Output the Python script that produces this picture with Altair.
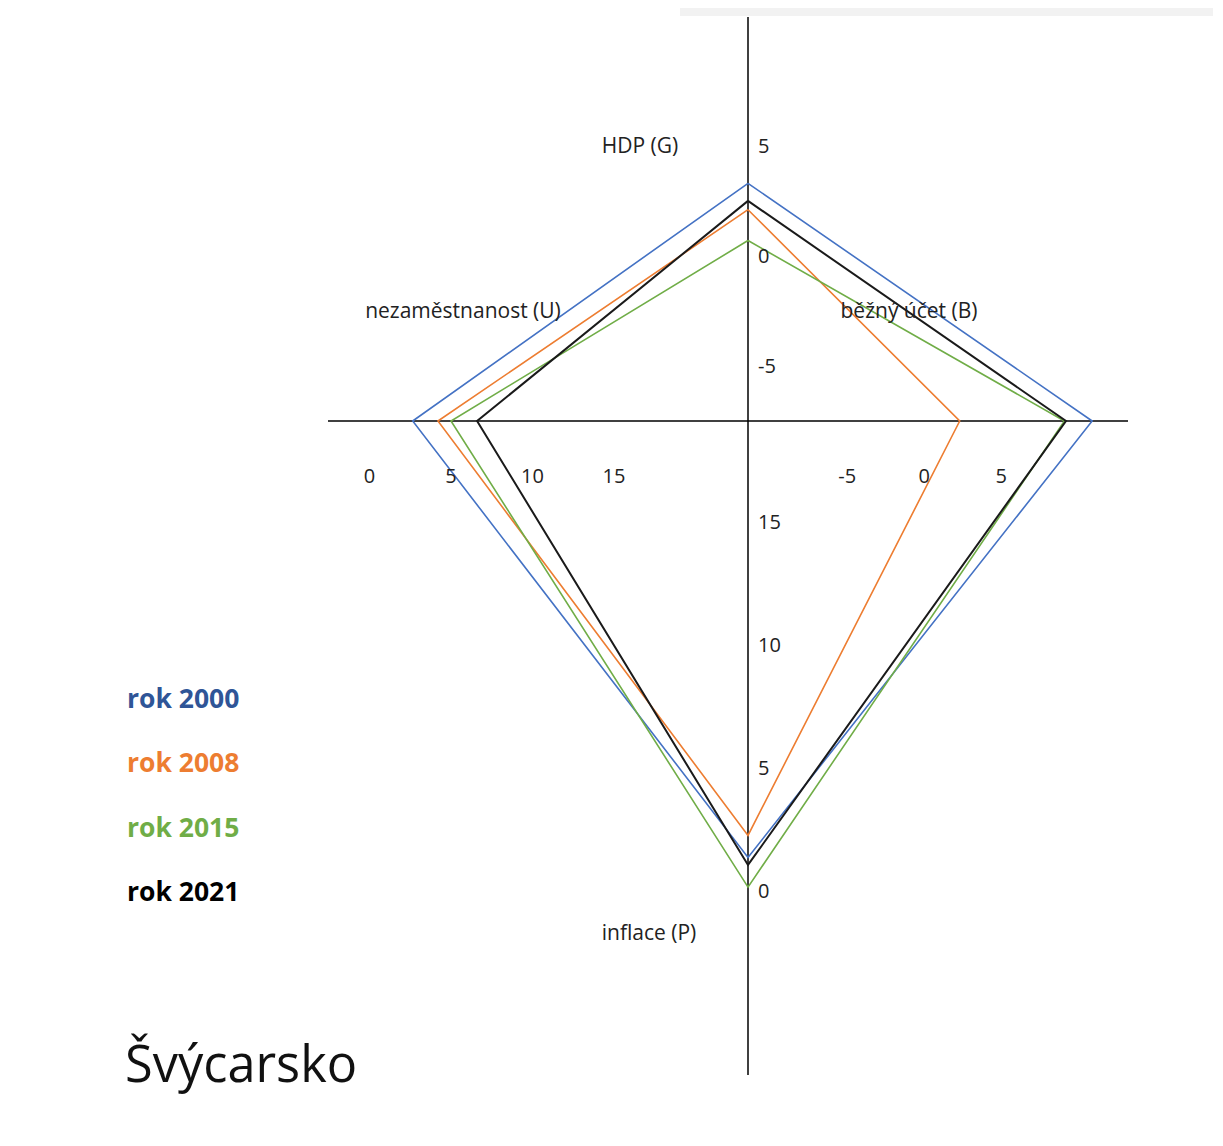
import altair as alt
import pandas as pd

# ---------------- data ----------------
years = ["rok 2000", "rok 2008", "rok 2015", "rok 2021"]
line_colors = ["#4472C4", "#ED7D31", "#70AD47", "#1a1a1a"]
legend_colors = ["#2F5597", "#ED7D31", "#70AD47", "#000000"]
line_widths = [1.6, 1.6, 1.6, 2.0]

hdp_G = [3.35, 2.15, 0.75, 2.55]            # top axis
bezny_ucet_B = [10.9, 2.3, 9.1, 9.2]        # right axis
inflace_P = [1.4, 2.3, 0.2, 1.1]            # bottom axis (0 outside)
nezamestnanost_U = [2.65, 4.2, 5.0, 6.6]    # left axis (0 outside)

ticks_G = [5, 0, -5]
ticks_B = [-5, 0, 5]
ticks_P = [0, 5, 10, 15]
ticks_U = [0, 5, 10, 15]

axis_titles = ["HDP (G)", "běžný účet (B)", "inflace (P)", "nezaměstnanost (U)"]
chart_title = "Švýcarsko"

# ---------------- layout of the quadrangle ----------------
W, H = 1205, 1125
CX, CY = 748, 421          # crossing point of the two axis lines
# each indicator has its own linear axis: position = origin + step * value
AX = {
    "G": ("y", 257.0, -22.0),
    "B": ("x", 924.3, 15.4),
    "P": ("y", 892.0, -24.6),
    "U": ("x", 369.5, 16.3),
}


def pos(axis, v):
    d, o, s = AX[axis]
    p = o + s * v
    return (CX, p) if d == "y" else (p, CY)


# polygons
poly_rows = []
for k, yr in enumerate(years):
    pts = [pos("G", hdp_G[k]), pos("B", bezny_ucet_B[k]),
           pos("P", inflace_P[k]), pos("U", nezamestnanost_U[k])]
    pts.append(pts[0])
    for i, (x, y) in enumerate(pts):
        poly_rows.append({"year": yr, "i": i, "x": x, "y": y,
                          "col": line_colors[k]})
poly = pd.DataFrame(poly_rows)

# tick labels
tick_rows = []
for t in ticks_G:
    x, y = pos("G", t)
    tick_rows.append({"x": x + 10, "y": y, "t": str(t), "a": "v"})
for t in ticks_P:
    x, y = pos("P", t)
    tick_rows.append({"x": x + 10, "y": y, "t": str(t), "a": "v"})
for t in ticks_B:
    x, y = pos("B", t)
    tick_rows.append({"x": x, "y": y + 56, "t": str(t), "a": "h"})
for t in ticks_U:
    x, y = pos("U", t)
    tick_rows.append({"x": x, "y": y + 56, "t": str(t), "a": "h"})
ticks = pd.DataFrame(tick_rows)

xs = alt.Scale(domain=[8, 8 + W], nice=False, zero=False)
ys = alt.Scale(domain=[8, 8 + H], nice=False, zero=False, reverse=True)
X = lambda f="x": alt.X(f + ":Q", scale=xs, axis=None)
Y = lambda f="y": alt.Y(f + ":Q", scale=ys, axis=None)

FONT = "Open Sans"

# axis lines
axes_df = pd.DataFrame({
    "x": [CX, 328], "x2": [CX, 1128],
    "y": [17, CY], "y2": [1075, CY],
})
axis_lines = alt.Chart(axes_df).mark_rule(color="#000", strokeWidth=1.5).encode(
    x=X(), x2="x2:Q", y=Y(), y2="y2:Q")

# page decoration (grey bar at the top right of the screenshot)
deco = alt.Chart(pd.DataFrame({"x": [680], "x2": [8 + W], "y": [8], "y2": [16]})).mark_rect(
    color="#f2f2f2").encode(x=X(), x2="x2:Q", y=Y(), y2="y2:Q")

layers = [deco, axis_lines]
for k, yr in enumerate(years):
    layers.append(
        alt.Chart(poly[poly.year == yr]).mark_line(strokeWidth=line_widths[k]).encode(
            x=X(), y=Y(), order="i:Q", color=alt.Color("col:N", scale=None)))

tick_v = alt.Chart(ticks[ticks.a == "v"]).mark_text(
    font=FONT, fontSize=20, align="left", baseline="middle", color="#222").encode(
    x=X(), y=Y(), text="t:N")
tick_h = alt.Chart(ticks[ticks.a == "h"]).mark_text(
    font=FONT, fontSize=20, align="center", baseline="middle", color="#222").encode(
    x=X(), y=Y(), text="t:N")
layers += [tick_v, tick_h]

titles_df = pd.DataFrame({
    "t": axis_titles,
    "x": [640, 909, 649, 463],
    "y": [147, 312, 934, 312],
})
axis_title_layer = alt.Chart(titles_df).mark_text(
    font=FONT, fontSize=21, align="center", baseline="middle", color="#222").encode(
    x=X(), y=Y(), text="t:N")
layers.append(axis_title_layer)

legend_df = pd.DataFrame({
    "t": years, "col": legend_colors,
    "x": [127] * 4, "y": [700, 764, 829, 893],
})
legend_layer = alt.Chart(legend_df).mark_text(
    font=FONT, fontSize=26.5, fontWeight="bold", align="left", baseline="middle").encode(
    x=X(), y=Y(), text="t:N", color=alt.Color("col:N", scale=None))
layers.append(legend_layer)

title_layer = alt.Chart(pd.DataFrame({"t": [chart_title], "x": [125], "y": [1067]})).mark_text(
    font=FONT, fontSize=50.5, align="left", baseline="middle", color="#111").encode(
    x=X(), y=Y(), text="t:N")
layers.append(title_layer)

chart = alt.layer(*layers).properties(
    width=W, height=H, padding=0,
    autosize=alt.AutoSizeParams(type="none"),
    background="white",
).configure_view(stroke=None)

chart.save("out.html", embed_options={"renderer": "svg", "actions": False})
